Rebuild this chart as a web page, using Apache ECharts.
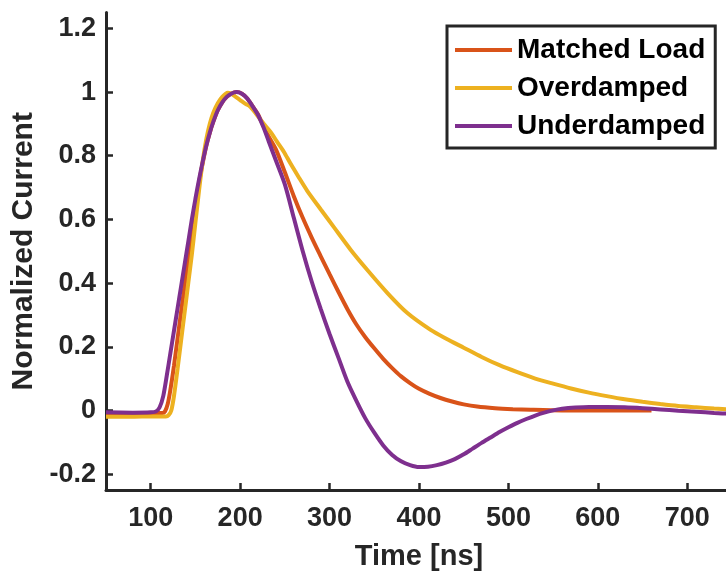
<!DOCTYPE html>
<html>
<head>
<meta charset="utf-8">
<script src="https://cdn.jsdelivr.net/npm/echarts@6/dist/echarts.min.js"></script>
<style>
html,body{margin:0;padding:0;background:#fff;}
#c{width:726px;height:576px;}
</style>
</head>
<body>
<div id="c"></div>
<script>
const seriesNames = ['Matched Load', 'Overdamped', 'Underdamped'];
const xTicks = [100, 200, 300, 400, 500, 600, 700];
const yTicks = [-0.2, 0, 0.2, 0.4, 0.6, 0.8, 1, 1.2];

const matchedT = [50, 80, 100, 113, 116, 119, 122, 126, 130, 134, 138, 142, 146, 150, 154, 158, 162, 166, 170, 175, 180, 185, 190, 196, 202, 208, 214, 220, 230, 240, 250, 260, 270, 280, 290, 300, 310, 320, 330, 340, 350, 360, 370, 380, 390, 400, 412, 424, 437, 450, 465, 485, 505, 525, 560, 600, 630, 660];
const matchedV = [-0.008, -0.008, -0.008, -0.008, -0.003, 0.02, 0.065, 0.14, 0.225, 0.31, 0.395, 0.48, 0.56, 0.64, 0.715, 0.775, 0.83, 0.872, 0.907, 0.943, 0.968, 0.985, 0.995, 1.0, 0.995, 0.98, 0.955, 0.93, 0.87, 0.82, 0.748, 0.673, 0.605, 0.543, 0.485, 0.428, 0.372, 0.318, 0.27, 0.23, 0.195, 0.162, 0.133, 0.107, 0.086, 0.068, 0.052, 0.039, 0.028, 0.019, 0.012, 0.007, 0.004, 0.002, 0.0, 0.0, 0.0, 0.0];

const overT = [50, 80, 100, 117, 120, 123, 126, 130, 134, 138, 142, 146, 150, 154, 158, 162, 166, 170, 175, 180, 186, 190, 195, 200, 206, 211, 217, 223, 228, 234, 241, 249, 256, 265, 275, 290, 305, 323.5, 342, 365, 387, 413, 430, 450, 470, 490, 510, 530, 550, 570, 590, 610, 630, 650, 670, 690, 710, 730, 750];
const overV = [-0.02, -0.02, -0.019, -0.019, -0.015, 0.0, 0.045, 0.13, 0.22, 0.31, 0.4, 0.49, 0.59, 0.69, 0.78, 0.85, 0.9, 0.935, 0.965, 0.985, 0.998, 0.995, 0.985, 0.975, 0.963, 0.955, 0.935, 0.912, 0.895, 0.875, 0.845, 0.812, 0.777, 0.735, 0.69, 0.632, 0.575, 0.505, 0.442, 0.368, 0.306, 0.253, 0.226, 0.197, 0.168, 0.142, 0.12, 0.1, 0.084, 0.069, 0.056, 0.045, 0.035, 0.027, 0.02, 0.014, 0.01, 0.006, 0.003];

const underT = [50, 80, 100, 106, 110, 114, 118, 122, 126, 130, 134, 138, 142, 146, 150, 154, 158, 162, 166, 170, 175, 180, 185, 190, 196, 202, 208, 214, 220, 226, 232, 240, 250, 260, 270, 280, 290, 300, 310, 320, 330, 340, 350, 360, 370, 380, 390, 400, 410, 420, 430, 440, 450, 460, 470, 480, 490, 500, 510, 520, 530, 540, 550, 560, 575, 590, 610, 630, 650, 670, 690, 710, 730, 750];
const underV = [-0.006, -0.007, -0.006, -0.003, 0.01, 0.045, 0.11, 0.18, 0.25, 0.32, 0.39, 0.46, 0.53, 0.6, 0.665, 0.725, 0.78, 0.83, 0.872, 0.907, 0.943, 0.968, 0.985, 0.995, 1.0, 0.995, 0.98, 0.955, 0.928, 0.89, 0.845, 0.785, 0.71, 0.605, 0.5, 0.405, 0.32, 0.24, 0.165, 0.09, 0.03, -0.025, -0.07, -0.11, -0.14, -0.16, -0.172, -0.178, -0.177, -0.172, -0.164, -0.153, -0.138, -0.12, -0.102, -0.085, -0.068, -0.053, -0.039, -0.027, -0.016, -0.007, 0.0, 0.005, 0.009, 0.011, 0.011, 0.01, 0.007, 0.003, -0.001, -0.004, -0.008, -0.011];

const colors = ['#D95319', '#EDB120', '#7E2F8E'];
const pairs = (t, v) => t.map((x, i) => [x, v[i]]);
const dataSets = [pairs(matchedT, matchedV), pairs(overT, overV), pairs(underT, underV)];

const FONT = "'Liberation Sans', Arial, Helvetica, sans-serif";
const AX = '#262626';

const chart = echarts.init(document.getElementById('c'), null, {renderer: 'canvas'});
chart.setOption({
  animation: false,
  backgroundColor: '#ffffff',
  grid: {left: 106, right: -6, top: 12.5, bottom: 86, containLabel: false, outerBoundsMode: 'none'},
  legend: {
    data: seriesNames,
    orient: 'vertical',
    left: 447,
    top: 26,
    icon: 'rect',
    itemWidth: 57,
    itemHeight: 4,
    itemGap: 10,
    padding: [10, 10, 8, 8],
    borderColor: AX,
    borderWidth: 3,
    backgroundColor: '#ffffff',
    textStyle: {fontFamily: FONT, fontWeight: 'bold', fontSize: 28, color: '#000', padding: [0, 0, 0, 0]},
    itemStyle: {borderWidth: 0}
  },
  xAxis: {
    type: 'value',
    min: 50,
    max: 750,
    name: 'Time [ns]',
    nameLocation: 'middle',
    nameGap: 52,
    nameTextStyle: {fontFamily: FONT, fontWeight: 'bold', fontSize: 29, color: AX},
    axisLine: {show: true, onZero: false, lineStyle: {color: AX, width: 3}},
    axisTick: {show: true, inside: true, length: 7, customValues: xTicks, lineStyle: {color: AX, width: 2.5}},
    axisLabel: {show: true, customValues: xTicks, margin: 15, fontFamily: FONT, fontWeight: 'bold', fontSize: 27, color: AX},
    splitLine: {show: false}
  },
  yAxis: {
    type: 'value',
    min: -0.25,
    max: 1.25,
    name: 'Normalized Current',
    nameLocation: 'middle',
    nameGap: 66,
    nameRotate: 90,
    nameTextStyle: {fontFamily: FONT, fontWeight: 'bold', fontSize: 30, color: AX},
    axisLine: {show: true, lineStyle: {color: AX, width: 3}},
    axisTick: {show: true, inside: true, length: 7, customValues: yTicks, lineStyle: {color: AX, width: 2.5}},
    axisLabel: {show: true, customValues: yTicks, margin: 10, fontFamily: FONT, fontWeight: 'bold', fontSize: 27, color: AX,
      formatter: v => String(+(+v).toFixed(2))},
    splitLine: {show: false}
  },
  series: seriesNames.map((n, i) => ({
    name: n,
    type: 'line',
    data: dataSets[i],
    showSymbol: false,
    symbol: 'none',
    smooth: 0.25,
    color: colors[i],
    lineStyle: {color: colors[i], width: 4},
    itemStyle: {color: colors[i]},
    clip: true,
    z: 2 + i
  }))
});
</script>
</body>
</html>
